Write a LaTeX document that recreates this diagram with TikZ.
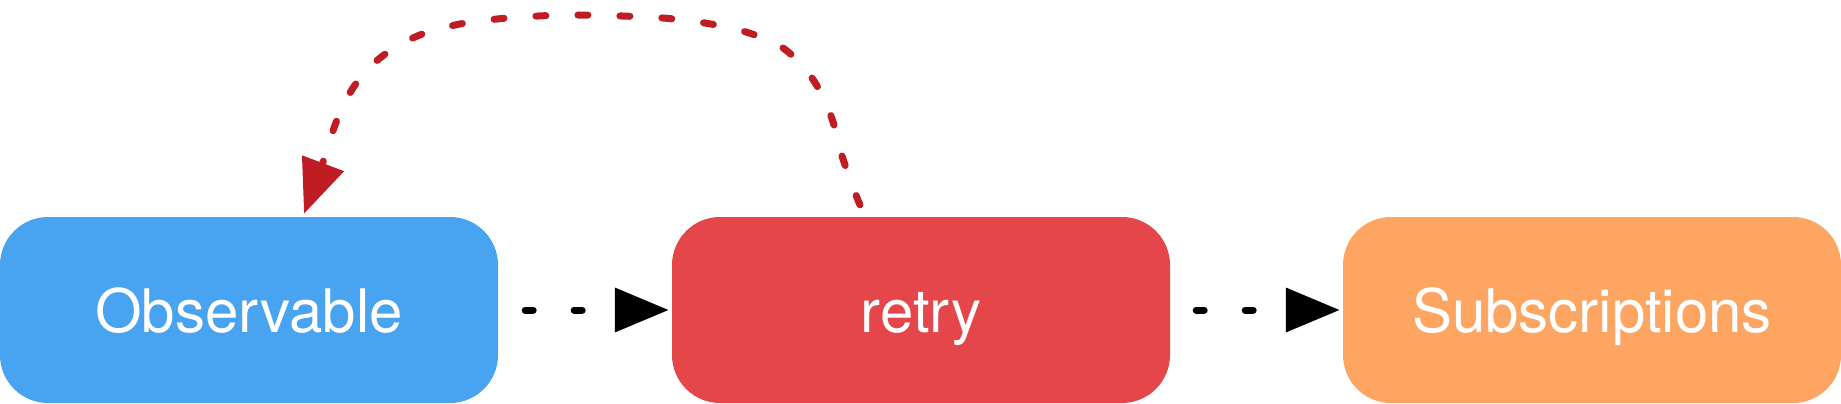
\documentclass[tikz,border=0pt]{standalone}
\usepackage{fontspec}
\setmainfont{TeX Gyre Heros}
\usetikzlibrary{arrows.meta,calc}
\definecolor{obsblue}{HTML}{48A4F1}
\definecolor{retryred}{HTML}{E4464A}
\definecolor{suborange}{HTML}{FEA562}
\definecolor{arcred}{HTML}{C01C24}
\begin{document}
\begin{tikzpicture}[x=1pt,y=-1pt,
  opbox/.style={rounded corners=48pt, minimum width=498pt, minimum height=186pt,
    inner sep=0pt, text=white, font=\fontsize{60}{60}\selectfont,
    text height=44pt, text depth=0pt},
  flow/.style={line width=7pt, line cap=round, dash pattern=on 8pt off 41pt,
    -{Triangle[length=54pt,width=43pt]}},
  retryarc/.style={arcred, line width=7pt, line cap=round, dash pattern=on 10pt off 32pt,
    -{Triangle[length=54pt,width=43pt]}}]
\useasboundingbox (0,0) rectangle (1841,404);
\node[opbox, fill=obsblue] (obs) at (249,310) {Observable};
\node[opbox, fill=retryred] (retry) at (921,310) {retry};
\node[opbox, fill=suborange] (subs) at (1592,310) {Subscriptions};
\draw[flow, shorten <=27pt, shorten >=3pt] (obs.east) -- (retry.west);
\draw[flow, shorten <=26pt, shorten >=3pt] (retry.east) -- (subs.west);
\coordinate (arcS) at ($(retry.north)+(-61,-12)$);
\coordinate (arcE) at ($(obs.north)+(55,-3)$);
\draw[retryarc] plot[smooth, tension=0.6] coordinates {(arcS) (856,195) (842,156) (831,116) (812,78) (783,48) (746,32) (705,23) (663,18) (622,16) (580,15) (538,16) (497,19) (455,25) (415,37) (380,58) (355,85) (337,120) (322,165) (arcE)};
\end{tikzpicture}
\end{document}
